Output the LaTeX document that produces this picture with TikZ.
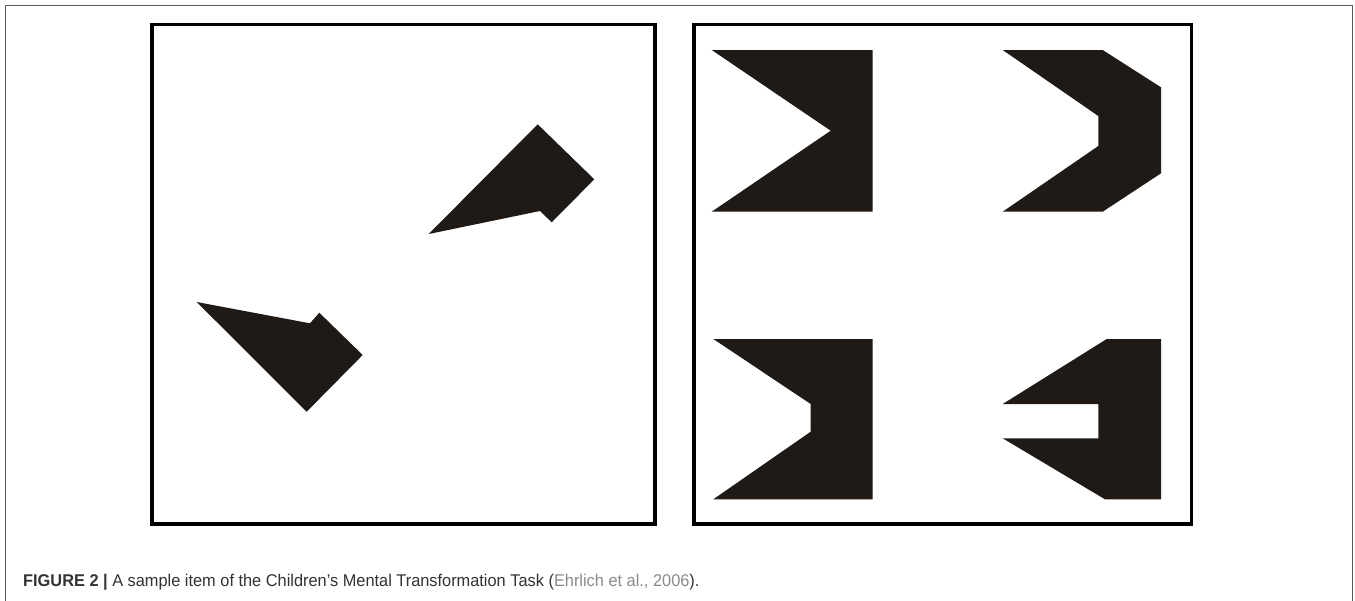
\documentclass[tikz,border=0pt]{standalone}
\usepackage{fontspec}
\setmainfont{Liberation Sans}
\newfontfamily\capfont[FakeStretch=0.962]{Liberation Sans}
\begin{document}
\begin{tikzpicture}[x=1pt,y=-1pt,
  panel/.style={draw=black,line width=3.6pt,fill=white},
  blob/.style={fill=shapefill,draw=none},
  frame/.style={draw=framegray,line width=1pt}]
\definecolor{shapefill}{HTML}{201A16}
\definecolor{framegray}{HTML}{5A5A5A}
\definecolor{captext}{HTML}{333333}
\definecolor{citegray}{HTML}{8A8A8A}
\useasboundingbox (0,0) rectangle (1355,600);
\fill[white] (0,0) rectangle (1355,600);
% outer frame
\draw[frame] (5,605) -- (5,5) -- (1352.5,5) -- (1352.5,605);
% panels
\draw[panel] (152,24.5) rectangle (655,524);
\draw[panel] (694,24.5) rectangle (1191.5,524);
% left panel shapes
\fill[blob] (428.7,234) -- (537.7,124.3) -- (594.3,179.3) -- (551.7,222.3) -- (540,211) -- cycle;
\fill[blob] (196.7,302) -- (310,323.3) -- (319.3,312.7) -- (362.7,355) -- (306.7,411.7) -- cycle;
% right panel shapes
\fill[blob] (711.7,50) -- (872.7,50) -- (872.7,211.7) -- (711.7,211.7) -- (830.7,130.7) -- cycle;
\fill[blob] (1002.7,50) -- (1102.7,50) -- (1161,87.3) -- (1161,173.3) -- (1102.7,211.7) -- (1002.7,211.7) -- (1098.3,146) -- (1098.3,116) -- cycle;
\fill[blob] (713.3,339) -- (872.7,339) -- (872.7,499.3) -- (713.3,499.3) -- (810.7,431.7) -- (810.7,404) -- cycle;
\fill[blob] (1106.7,339) -- (1161,339) -- (1161,499.3) -- (1105,499.3) -- (1002.7,438.3) -- (1098.3,438.3) -- (1098.3,404) -- (1002.7,404) -- cycle;
% caption
\node[anchor=base west,inner sep=0pt,text=captext,font=\capfont\fontsize{17}{20}\selectfont] (caption) at (23,586.5)
  {\textbf{FIGURE 2 |} A sample item of the Children’s Mental Transformation Task (\textcolor{citegray}{Ehrlich et al., 2006}).};
\end{tikzpicture}
\end{document}
